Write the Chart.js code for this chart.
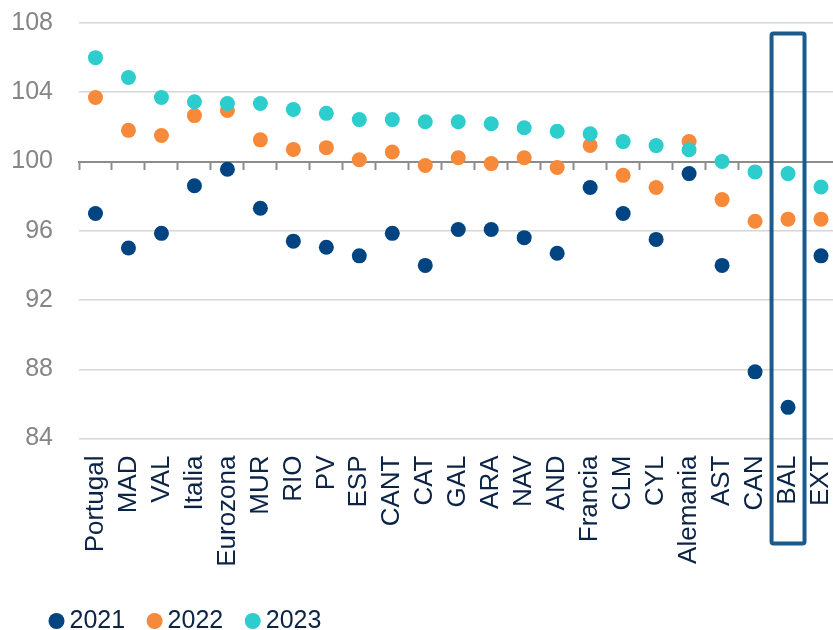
<!DOCTYPE html>
<html lang="es">
<head>
    <meta charset="UTF-8">
    <title>Índices 2021-2023</title>
    <script src="https://cdn.jsdelivr.net/npm/chart.js"></script>
    <style>
        html, body { margin: 0; padding: 0; background: #fff; overflow: hidden; }
        #wrap { width: 845px; height: 630px; position: relative; }
    </style>
</head>
<body>
    <div id="wrap"><canvas id="chart"></canvas></div>

    <script>
        const regiones = ["Portugal", "MAD", "VAL", "Italia", "Eurozona", "MUR", "RIO", "PV", "ESP", "CANT", "CAT",
            "GAL", "ARA", "NAV", "AND", "Francia", "CLM", "CYL", "Alemania", "AST", "CAN", "BAL", "EXT"];
        const v2021 = [97.0, 95.0, 95.85, 98.6, 99.55, 97.3, 95.4, 95.05, 94.55, 95.85, 94.0,
            96.07, 96.07, 95.6, 94.7, 98.5, 97.0, 95.5, 99.3, 94.0, 87.85, 85.8, 94.55];
        const v2022 = [103.7, 101.8, 101.5, 102.65, 102.95, 101.25, 100.7, 100.8, 100.1, 100.55, 99.77,
            100.22, 99.88, 100.22, 99.65, 100.93, 99.2, 98.5, 101.15, 97.8, 96.55, 96.67, 96.67];
        const v2023 = [106.0, 104.85, 103.7, 103.45, 103.35, 103.35, 103.0, 102.78, 102.42, 102.42, 102.3,
            102.3, 102.18, 101.95, 101.75, 101.6, 101.15, 100.92, 100.68, 100.0, 99.4, 99.3, 98.53];
        const yTicks = [84, 88, 92, 96, 100, 104, 108];
        const destacada = "BAL";

        const navy = "#004481", naranja = "#F7893B", turquesa = "#2DCCCD";
        const texto = "#0a2346";

        // caja alrededor de BAL
        const cajaPlugin = {
            id: "caja",
            afterLayout(chart) {
                // que no se recorte el "1" de 108/104/100
                chart.scales.y.left = 0;
            },
            afterDatasetsDraw(chart) {
                const x = chart.scales.x, y = chart.scales.y;
                const i = regiones.indexOf(destacada);
                const cx = x.getPixelForValue(i);
                const half = (x.getPixelForValue(1) - x.getPixelForValue(0)) / 2;
                const top = y.getPixelForValue(107.4);
                const bottom = x.top + 105;
                const ctx = chart.ctx;
                ctx.save();
                ctx.strokeStyle = "#1a5a8c";
                ctx.lineWidth = 4;
                ctx.beginPath();
                ctx.roundRect(cx - half, top, half * 2, bottom - top, 2);
                ctx.stroke();
                ctx.restore();
            }
        };

        const sinPadding = s => { s.paddingLeft = s.paddingRight = s.paddingTop = s.paddingBottom = 0; };

        const punto = (label, data, color, order) => ({
            label, data, order,
            backgroundColor: color,
            borderColor: color,
            pointBackgroundColor: color,
            pointBorderWidth: 0,
            pointRadius: 7.5,
            pointHoverRadius: 7.5,
            showLine: false,
            xAxisID: "x"
        });

        new Chart(document.getElementById("chart"), {
            type: "line",
            data: {
                labels: regiones,
                datasets: [
                    punto("2021", v2021, navy, 2),
                    punto("2022", v2022, naranja, 1),
                    punto("2023", v2023, turquesa, 0)
                ]
            },
            options: {
                responsive: true,
                maintainAspectRatio: false,
                animation: false,
                layout: { padding: { left: 27, right: 7, top: 23, bottom: -13.5 } },
                scales: {
                    x: {
                        type: "category",
                        offset: true,
                        grid: { display: false, drawTicks: false },
                        border: { display: false },
                        ticks: {
                            minRotation: 90, maxRotation: 90, padding: 17, autoSkip: false,
                            color: texto,
                            font: { family: "Liberation Sans, Arial", size: 26 }
                        },
                        afterFit(s) { s.height = 141; sinPadding(s); }
                    },
                    x2: {
                        type: "category",
                        offset: true,
                        position: { y: 100 },
                        grid: { offset: true, drawOnChartArea: false, drawTicks: true, tickLength: 7, tickColor: "#8c8c8c", tickWidth: 2 },
                        border: { color: "#8c8c8c", width: 2 },
                        ticks: { display: false },
                        afterFit: sinPadding
                    },
                    y: {
                        min: 84, max: 108,
                        afterBuildTicks(s) { s.ticks = yTicks.map(v => ({ value: v })); },
                        grid: { color: "#d6d6d6", lineWidth: 1.5, drawTicks: false },
                        border: { display: false },
                        ticks: {
                            padding: 26,
                            color: "#858585",
                            font: { family: "Liberation Sans, Arial", size: 25 }
                        },
                        afterFit(s) { s.width = 52; sinPadding(s); }
                    }
                },
                plugins: {
                    tooltip: { enabled: false },
                    legend: {
                        position: "bottom",
                        align: "start",
                        labels: {
                            usePointStyle: true,
                            pointStyle: "circle",
                            boxWidth: 1,
                            boxHeight: 11.3,
                            padding: 29,
                            color: texto,
                            font: { family: "Liberation Sans, Arial", size: 25 },
                            sort: (a, b) => a.datasetIndex - b.datasetIndex
                        }
                    }
                }
            },
            plugins: [cajaPlugin]
        });
    </script>
</body>
</html>
